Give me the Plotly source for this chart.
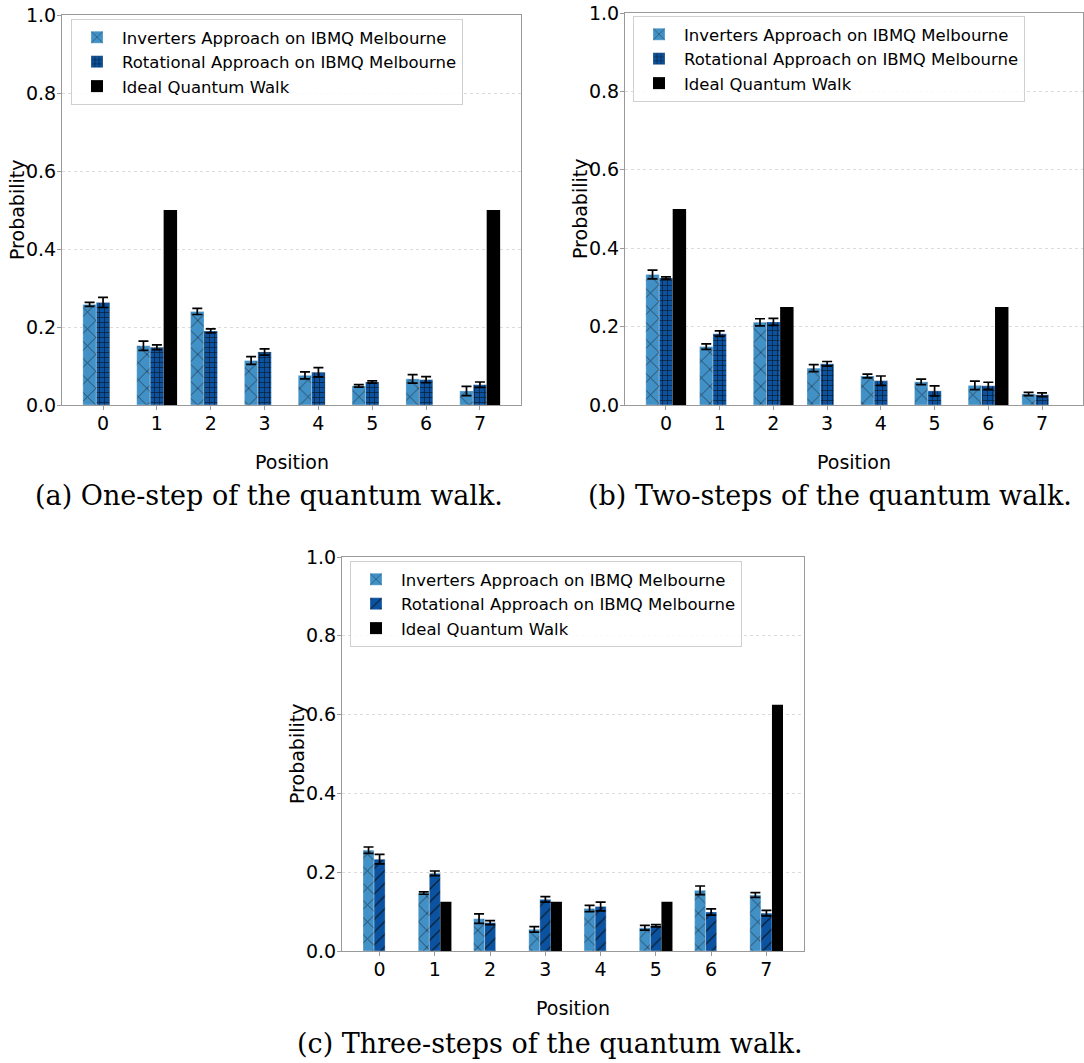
import plotly.graph_objects as go

positions = [0, 1, 2, 3, 4, 5, 6, 7]
tick_labels = ["0", "1", "2", "3", "4", "5", "6", "7"]
y_ticks = [0.0, 0.2, 0.4, 0.6, 0.8, 1.0]

# (a) one step
a_inv = [0.258, 0.152, 0.240, 0.114, 0.076, 0.049, 0.067, 0.036]
a_inv_err = [0.005, 0.012, 0.008, 0.010, 0.009, 0.003, 0.011, 0.012]
a_rot = [0.263, 0.148, 0.190, 0.136, 0.084, 0.059, 0.065, 0.052]
a_rot_err = [0.013, 0.006, 0.005, 0.008, 0.012, 0.003, 0.008, 0.007]
a_ideal = [0, 0.5, 0, 0, 0, 0, 0, 0.5]

# (b) two steps
b_inv = [0.333, 0.149, 0.211, 0.094, 0.074, 0.059, 0.050, 0.028]
b_inv_err = [0.011, 0.007, 0.009, 0.009, 0.005, 0.007, 0.011, 0.004]
b_rot = [0.324, 0.182, 0.212, 0.105, 0.062, 0.036, 0.049, 0.026]
b_rot_err = [0.003, 0.007, 0.009, 0.006, 0.012, 0.013, 0.009, 0.005]
b_ideal = [0.5, 0, 0.25, 0, 0, 0, 0.25, 0]

# (c) three steps
c_inv = [0.256, 0.147, 0.082, 0.055, 0.108, 0.059, 0.154, 0.142]
c_inv_err = [0.008, 0.003, 0.012, 0.007, 0.008, 0.006, 0.011, 0.006]
c_rot = [0.233, 0.197, 0.072, 0.131, 0.113, 0.064, 0.099, 0.096]
c_rot_err = [0.012, 0.006, 0.005, 0.007, 0.011, 0.003, 0.008, 0.007]
c_ideal = [0, 0.125, 0, 0.125, 0, 0.125, 0, 0.625]

names = ["Inverters Approach on IBMQ Melbourne",
         "Rotational Approach on IBMQ Melbourne",
         "Ideal Quantum Walk"]
captions = ["(a) One-step of the quantum walk.",
            "(b) Two-steps of the quantum walk.",
            "(c) Three-steps of the quantum walk."]
x_title = "Position"
y_title = "Probability"

C_INV = "#4191c6"
C_ROT = "#0b53a0"
C_IDEAL = "#000000"

W, H = 1084, 1063
panels = [
    dict(inv=a_inv, inv_err=a_inv_err, rot=a_rot, rot_err=a_rot_err, ideal=a_ideal,
         x0=62, x1=521, y0=15, y1=405, w=0.25, rot_shape="+", rot_size=5, rot_sol=0.28,
         legend_xy=(71, 19), ytitle_x=17, cap_x=269, cap_y=495),
    dict(inv=b_inv, inv_err=b_inv_err, rot=b_rot, rot_err=b_rot_err, ideal=b_ideal,
         x0=625, x1=1083, y0=13, y1=405, w=0.25, rot_shape="+", rot_size=5, rot_sol=0.28,
         legend_xy=(633, 16), ytitle_x=580, cap_x=830, cap_y=495),
    dict(inv=c_inv, inv_err=c_inv_err, rot=c_rot, rot_err=c_rot_err, ideal=c_ideal,
         x0=342, x1=804, y0=557, y1=951, w=0.2, rot_shape="/", rot_size=9, rot_sol=0.15,
         legend_xy=(350, 561), ytitle_x=297, cap_x=550, cap_y=1043),
]

fig = go.Figure()
font = "DejaVu Sans"
layout = dict(
    width=W, height=H,
    margin=dict(l=0, r=0, t=0, b=0, autoexpand=False),
    paper_bgcolor="white", plot_bgcolor="white",
    barmode="overlay", showlegend=True,
    font=dict(family=font, size=19, color="black"),
)
annotations = []
for i, p in enumerate(panels):
    k = "" if i == 0 else str(i + 1)
    xa, ya = "x" + k, "y" + k
    leg = "legend" + k
    w = p["w"]
    err_style = dict(type="data", visible=True, color="black", thickness=1.7, width=5)
    fig.add_trace(go.Bar(
        x=positions, y=p["inv"], width=w, offset=-1.5 * w, name=names[0],
        marker=dict(color=C_INV, line=dict(color="rgba(255,255,255,0.5)", width=0.6),
                    pattern=dict(shape="x", fgcolor="#1a2a3a", fgopacity=0.9,
                                 size=12, solidity=0.12)),
        error_y=dict(array=p["inv_err"], **err_style),
        xaxis=xa, yaxis=ya, legend=leg))
    fig.add_trace(go.Bar(
        x=positions, y=p["rot"], width=w, offset=-0.5 * w, name=names[1],
        marker=dict(color=C_ROT, line=dict(color="rgba(255,255,255,0.5)", width=0.6),
                    pattern=dict(shape=p["rot_shape"], fgcolor="#0a1a2a", fgopacity=0.9,
                                 size=p["rot_size"], solidity=p["rot_sol"])),
        error_y=dict(array=p["rot_err"], **err_style),
        xaxis=xa, yaxis=ya, legend=leg))
    fig.add_trace(go.Bar(
        x=positions, y=p["ideal"], width=w, offset=0.5 * w, name=names[2],
        marker=dict(color=C_IDEAL, line=dict(width=0)),
        xaxis=xa, yaxis=ya, legend=leg))

    dx = [p["x0"] / W, p["x1"] / W]
    dy = [1 - p["y1"] / H, 1 - p["y0"] / H]
    lo = -1.5 * w - 0.05 * (7 + 3 * w)
    hi = 7 + 1.5 * w + 0.05 * (7 + 3 * w)
    layout["xaxis" + k] = dict(
        domain=dx, anchor=ya, range=[lo, hi], tickvals=positions, ticktext=tick_labels,
        automargin=False,
        showgrid=False, zeroline=False, showline=True, linecolor="#9a9a9a", linewidth=1,
        mirror=True, ticks="outside", ticklen=4, tickcolor="#9a9a9a",
        ticklabelstandoff=-3, tickfont=dict(size=19),
    )
    layout["yaxis" + k] = dict(
        domain=dy, anchor=xa, range=[0, 1], tickvals=y_ticks, tickformat=".1f",
        automargin=False,
        showgrid=True, gridcolor="#dcdcdc", griddash="dot", gridwidth=1,
        zeroline=False, showline=True, linecolor="#9a9a9a", linewidth=1,
        mirror=True, ticks="outside", ticklen=4, tickcolor="#9a9a9a",
        ticklabelstandoff=-3, tickfont=dict(size=19),
    )
    lx, ly = p["legend_xy"]
    layout[leg] = dict(
        x=lx / W, y=1 - ly / H, xanchor="left", yanchor="top",
        bgcolor="rgba(255,255,255,0.85)", bordercolor="#d0d0d0", borderwidth=1,
        font=dict(size=16.5, family=font), tracegroupgap=0, itemwidth=40,
    )
    annotations.append(dict(
        text=y_title, xref="paper", yref="paper", textangle=-90,
        x=p["ytitle_x"] / W, y=1 - (p["y0"] + p["y1"]) / 2 / H,
        xanchor="center", yanchor="middle", showarrow=False,
        font=dict(family=font, size=19, color="black"),
    ))
    annotations.append(dict(
        text=x_title, xref="paper", yref="paper",
        x=(p["x0"] + p["x1"]) / 2 / W, y=1 - (p["y1"] + 57) / H,
        xanchor="center", yanchor="middle", showarrow=False,
        font=dict(family=font, size=19, color="black"),
    ))
    annotations.append(dict(
        text=captions[i], xref="paper", yref="paper",
        x=p["cap_x"] / W, y=1 - p["cap_y"] / H,
        xanchor="center", yanchor="middle", showarrow=False,
        font=dict(family="DejaVu Serif", size=27, color="black"),
    ))

layout["annotations"] = annotations
fig.update_layout(**layout)
fig.write_html("out.html")
